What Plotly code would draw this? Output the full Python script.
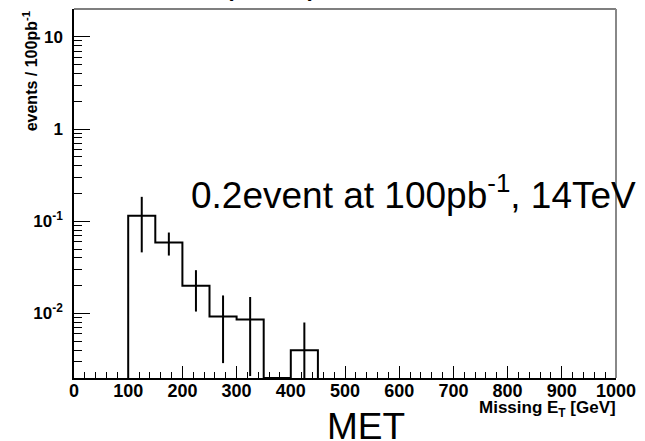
import plotly.graph_objects as go

# Missing transverse energy, 50 GeV bins, normalised to 100 pb^-1
bin_edges = [100, 150, 200, 250, 300, 350, 400, 450]
bin_counts = [0.115, 0.059, 0.020, 0.0093, 0.0086, 0.0, 0.0040]
bin_errors = [0.069, 0.0165, 0.0095, 0.0064, 0.0065, 0.0, 0.0040]

x_range = [0, 1000]
y_range = [0.002, 20]
y_major = [0.01, 0.1, 1, 10]
y_major_text = ["10<sup>-2</sup>", "10<sup>-1</sup>", "1", "10"]
x_major = [0, 100, 200, 300, 400, 500, 600, 700, 800, 900, 1000]

floor = y_range[0]

# step outline of the histogram (empty bins sit on the axis)
step_x = [bin_edges[0]] + bin_edges[:-1] + [bin_edges[-1]]
step_y = [floor] + [c if c > 0 else floor for c in bin_counts] + [floor]

centres = [(a + b) / 2 for a, b in zip(bin_edges[:-1], bin_edges[1:])]
err_x = [c for c, n in zip(centres, bin_counts) if n > 0]
err_y = [n for n in bin_counts if n > 0]
err_v = [e for e, n in zip(bin_errors, bin_counts) if n > 0]

# minor ticks: 2..9 in every decade
y_minor = []
for dec in [0.001, 0.01, 0.1, 1, 10]:
    for k in range(2, 10):
        v = k * dec
        if y_range[0] <= v <= y_range[1]:
            y_minor.append(v)

fig = go.Figure()
fig.add_trace(go.Scatter(
    x=step_x, y=step_y, mode="lines", line=dict(shape="hv", color="black", width=2),
    hoverinfo="skip", showlegend=False,
))
fig.add_trace(go.Scatter(
    x=err_x, y=err_y, mode="markers", marker=dict(size=1, color="black"),
    error_y=dict(type="data", array=err_v, visible=True, width=0, thickness=2, color="black"),
    showlegend=False,
))

L, R, T, B = 74, 25, 9, 63
W, H = 645, 441
pw, ph = W - L - R, H - T - B


def px(xp):
    return (xp - L) / pw


def py(yp):
    return (H - B - yp) / ph


font_main = "Liberation Sans, Arial, sans-serif"

fig.update_layout(
    width=W, height=H,
    margin=dict(l=L, r=R, t=T, b=B, pad=0),
    paper_bgcolor="white", plot_bgcolor="white",
    font=dict(family=font_main, color="black"),
    xaxis=dict(
        range=x_range, showgrid=False, zeroline=False,
        showline=True, linecolor="black", linewidth=2,
        ticks="inside", ticklen=12, tickwidth=1, tickcolor="black",
        tickvals=x_major, ticktext=[str(v) for v in x_major],
        tickfont=dict(size=18, family=font_main, weight="bold"),
        ticklabelstandoff=-5,
        minor=dict(dtick=20, ticks="inside", ticklen=6, tickcolor="black", showgrid=False),
    ),
    yaxis=dict(
        type="log", range=[-2.699, 1.301], showgrid=False, zeroline=False,
        showline=True, linecolor="black", linewidth=1.5,
        ticks="inside", ticklen=16, tickwidth=1, tickcolor="black",
        tickvals=y_major, ticktext=y_major_text,
        tickfont=dict(size=17, family=font_main, weight="bold"),
        ticklabelstandoff=6,
        minor=dict(tickmode="array", tickvals=y_minor, ticks="inside", ticklen=8,
                   tickcolor="black", showgrid=False),
    ),
    shapes=[
        dict(type="line", xref="paper", yref="paper", x0=0, x1=1, y0=1, y1=1,
             line=dict(color="black", width=1.2)),
        dict(type="line", xref="paper", yref="paper", x0=1, x1=1, y0=0, y1=1,
             line=dict(color="#888888", width=2)),
    ],
    annotations=[
        dict(text="0.2event at 100pb<sup>-1</sup>, 14TeV", xref="paper", yref="paper",
             x=px(190), y=py(192), xanchor="left", yanchor="middle", showarrow=False,
             font=dict(size=37, family=font_main, color="black")),
        dict(text="MET", xref="paper", yref="paper",
             x=px(368), y=py(426), xanchor="center", yanchor="middle", showarrow=False,
             font=dict(size=37, family=font_main, color="black")),
        dict(text="Missing E<sub>T</sub> [GeV]", xref="paper", yref="paper",
             x=px(622), y=py(409), xanchor="right", yanchor="middle", showarrow=False,
             font=dict(size=17, family=font_main, color="black", weight="bold")),
        dict(text="events / 100pb<sup>-1</sup>", xref="paper", yref="paper",
             x=px(30), y=1, xanchor="center", yanchor="top", textangle=-90, showarrow=False,
             font=dict(size=16, family=font_main, color="black", weight="bold")),
        dict(text="(MET)", xref="paper", yref="paper",
             x=px(272), y=py(-19), xanchor="center", yanchor="middle", showarrow=False,
             font=dict(size=35, family=font_main, color="black")),
    ],
)

fig.write_html("out.html")
